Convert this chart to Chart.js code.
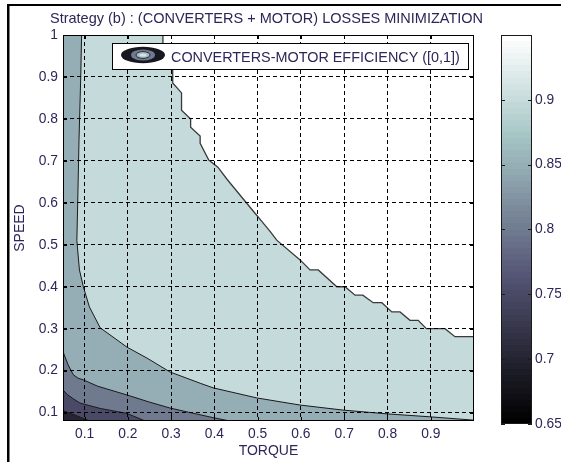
<!DOCTYPE html>
<html>
<head>
<meta charset="utf-8">
<title>Converters + motor efficiency</title>
<script src="https://cdn.jsdelivr.net/npm/chart.js@4.4.1/dist/chart.umd.min.js"></script>
<style>
  html, body { margin: 0; padding: 0; background: #fff; }
  #wrap { position: relative; width: 561px; height: 462px; }
  #wrap canvas { position: absolute; left: 0; top: 0; }
</style>
</head>
<body>
<div id="wrap">
  <canvas id="effChart" width="561" height="462"></canvas>
  <canvas id="barChart" width="561" height="462"></canvas>
</div>
<script>
// axes
const torqueRange = [0.05, 1.0];
const speedRange = [0.08, 1.0];
const torqueTicks = [0.1, 0.2, 0.3, 0.4, 0.5, 0.6, 0.7, 0.8, 0.9];
const speedTicks = [0.1, 0.2, 0.3, 0.4, 0.5, 0.6, 0.7, 0.8, 0.9, 1];

// colour scale
const colorLimits = [0.65, 0.95];
const colorbarTicks = [0.65, 0.7, 0.75, 0.8, 0.85, 0.9];

// iso-efficiency lines (torque, speed)
const torque95 = [0.281, 0.281, 0.3036, 0.3036, 0.324, 0.324, 0.345, 0.345, 0.367, 0.367, 0.387, 0.408,
  0.43, 0.45, 0.47, 0.49, 0.51, 0.53, 0.544, 0.598, 0.621, 0.640, 0.683, 0.702, 0.725, 0.743, 0.767,
  0.787, 0.81, 0.829, 0.852, 0.871, 0.89, 0.933, 0.956, 1.0];
const speed95 = [1.0, 0.96, 0.935, 0.8855, 0.862, 0.821, 0.80, 0.78, 0.759, 0.742, 0.702, 0.685,
  0.655, 0.63, 0.605, 0.58, 0.555, 0.53, 0.511, 0.464, 0.44, 0.44, 0.40, 0.40, 0.38, 0.38, 0.362,
  0.362, 0.34, 0.34, 0.32, 0.32, 0.30, 0.30, 0.281, 0.281];

const torque90 = [0.093, 0.091, 0.087, 0.084, 0.082, 0.088, 0.097, 0.111, 0.136, 0.198, 0.244, 0.297,
  0.367, 0.397, 0.498, 0.598, 0.697, 0.799, 0.898, 1.0];
const speed90 = [1.0, 0.9, 0.75, 0.6, 0.51, 0.44, 0.4, 0.352, 0.302, 0.256, 0.23, 0.197,
  0.17, 0.159, 0.135, 0.118, 0.106, 0.097, 0.09, 0.082];

const torque85 = [0.05, 0.062, 0.074, 0.085, 0.097, 0.13, 0.198, 0.25, 0.297, 0.34, 0.397, 0.436];
const speed85 = [0.245, 0.2135, 0.19, 0.182, 0.178, 0.163, 0.142, 0.125, 0.111, 0.101, 0.088, 0.08];

const torque80 = [0.05, 0.06, 0.075, 0.089, 0.11, 0.136, 0.198, 0.24];
const speed80 = [0.154, 0.143, 0.132, 0.123, 0.117, 0.110, 0.098, 0.08];

const torque75 = [0.05, 0.07, 0.09, 0.112];
const speed75 = [0.1045, 0.097, 0.089, 0.08];

const textColor = '#2e2658';
Chart.defaults.font.family = "'Liberation Sans', Arial, sans-serif";
Chart.defaults.font.size = 13.8;
Chart.defaults.color = textColor;

// MATLAB "bone" colormap
function bone(t) {
  const hr = Math.min(1, t / 0.375);
  const hg = Math.min(1, Math.max(0, (t - 0.375) / 0.375));
  const hb = Math.min(1, Math.max(0, (t - 0.75) / 0.25));
  const c = v => Math.round(v * 255);
  return `rgb(${c((7 * t + hb) / 8)},${c((7 * t + hg) / 8)},${c((7 * t + hr) / 8)})`;
}
function levelColor(v) {
  return bone((v - colorLimits[0]) / (colorLimits[1] - colorLimits[0]));
}

function pts(xs, ys) {
  return xs.map((x, i) => ({ x: x, y: ys[i] }));
}

const [tMin, tMax] = torqueRange;
const [sMin, sMax] = speedRange;

// filled bands, each one the area below/left of its lower contour
const bands = [
  { level: 0.90, data: [{ x: tMin, y: sMax }, ...pts(torque95, speed95), { x: tMax, y: sMin }, { x: tMin, y: sMin }] },
  { level: 0.85, data: [{ x: tMin, y: sMax }, ...pts(torque90, speed90), { x: tMax, y: sMin }, { x: tMin, y: sMin }] },
  { level: 0.80, data: [...pts(torque85, speed85), { x: tMin, y: sMin }] },
  { level: 0.75, data: [...pts(torque80, speed80), { x: tMin, y: sMin }] },
  { level: 0.70, data: [...pts(torque75, speed75), { x: tMin, y: sMin }] }
];
const contours = [
  { data: pts(torque95, speed95), color: '#3a3a3a', width: 1.3 },
  { data: pts(torque90, speed90), color: '#1a1a1a', width: 1 },
  { data: pts(torque85, speed85), color: '#1a1a1a', width: 1 },
  { data: pts(torque80, speed80), color: '#1a1a1a', width: 1 },
  { data: pts(torque75, speed75), color: '#1a1a1a', width: 1 }
];

const datasets = [];
bands.forEach((b, i) => {
  datasets.push({
    data: b.data, showLine: true, fill: 'shape', backgroundColor: levelColor(b.level),
    borderColor: 'rgba(0,0,0,0)', borderWidth: 0, pointRadius: 0, tension: 0, order: 20 - i
  });
});
contours.forEach(c => {
  datasets.push({
    data: c.data, showLine: true, fill: false, borderColor: c.color, borderWidth: c.width,
    pointRadius: 0, tension: 0, order: 1
  });
});

// frame, inward ticks, legend, title
const decorations = {
  id: 'decorations',
  afterDraw(chart) {
    const { ctx, chartArea: a, scales } = chart;
    ctx.save();
    ctx.strokeStyle = '#000';
    ctx.lineWidth = 1;
    ctx.strokeRect(a.left + 0.5, a.top + 0.5, a.right - a.left - 1, a.bottom - a.top - 1);
    ctx.beginPath();
    torqueTicks.forEach(v => {
      const x = Math.round(scales.x.getPixelForValue(v)) + 0.5;
      ctx.moveTo(x, a.bottom); ctx.lineTo(x, a.bottom - 4);
      ctx.moveTo(x, a.top); ctx.lineTo(x, a.top + 4);
    });
    speedTicks.forEach(v => {
      const y = Math.round(scales.y.getPixelForValue(v)) + 0.5;
      ctx.moveTo(a.left, y); ctx.lineTo(a.left + 4, y);
      ctx.moveTo(a.right, y); ctx.lineTo(a.right - 4, y);
    });
    ctx.stroke();

    // legend
    ctx.fillStyle = '#fff';
    ctx.fillRect(112, 43, 356, 26);
    ctx.strokeRect(112.5, 43.5, 356, 26);
    const ell = (rx, ry, fill, stroke) => {
      ctx.beginPath();
      ctx.ellipse(143, 55, rx, ry, 0, 0, Math.PI * 2);
      ctx.fillStyle = fill; ctx.fill();
      if (stroke) { ctx.strokeStyle = stroke; ctx.stroke(); }
    };
    ell(22, 8.2, '#17171f');
    ell(12, 5.6, '#6d7a91');
    ell(7, 3.4, '#a9bcc2', '#2a2a33');
    ell(3.5, 1.6, '#d4e2e2');
    ctx.fillStyle = textColor;
    ctx.font = "14.4px 'Liberation Sans', Arial, sans-serif";
    ctx.textBaseline = 'alphabetic';
    ctx.fillText('CONVERTERS-MOTOR EFFICIENCY ([0,1])', 171, 62);

    // title
    ctx.font = "14.5px 'Liberation Sans', Arial, sans-serif";
    ctx.fillText('Strategy (b) : (CONVERTERS + MOTOR) LOSSES MINIMIZATION', 50, 23);

    // figure border
    ctx.fillStyle = '#000';
    ctx.fillRect(7, 4, chart.width - 7, 2);
    ctx.fillRect(7, 4, 2.5, chart.height - 4);
    ctx.restore();
  }
};

new Chart(document.getElementById('effChart'), {
  type: 'scatter',
  data: { datasets: datasets },
  options: {
    responsive: false,
    animation: false,
    events: [],
    layout: { padding: { left: 0, top: 35, right: 87, bottom: 0 } },
    plugins: { legend: { display: false }, tooltip: { enabled: false } },
    scales: {
      x: {
        type: 'linear',
        min: tMin, max: tMax,
        afterBuildTicks: s => { s.ticks = torqueTicks.map(v => ({ value: v })); },
        afterFit: s => { s.height = 41; },
        ticks: { padding: 5, callback: v => String(v) },
        grid: { color: '#000', lineWidth: 1, drawTicks: false, z: 1 },
        border: { display: false, dash: [4, 3] },
        title: { display: true, text: 'TORQUE', font: { size: 14 }, padding: { top: 0, bottom: 2 } }
      },
      y: {
        type: 'linear',
        min: sMin, max: sMax,
        afterBuildTicks: s => { s.ticks = speedTicks.map(v => ({ value: v })); },
        afterFit: s => { s.width = 63; },
        ticks: { padding: 5, callback: v => String(v) },
        grid: { color: '#000', lineWidth: 1, drawTicks: false, z: 1 },
        border: { display: false, dash: [4, 3] },
        title: { display: true, text: 'SPEED', font: { size: 14 }, padding: { top: 12, bottom: 0 } }
      }
    }
  },
  plugins: [decorations]
});

// colour bar
const colorbarFrame = {
  id: 'colorbarFrame',
  afterDraw(chart) {
    const { ctx, chartArea: a, scales } = chart;
    ctx.save();
    ctx.strokeStyle = '#1a1a1a';
    ctx.lineWidth = 1;
    ctx.strokeRect(a.left + 0.5, a.top + 0.5, a.right - a.left - 1, a.bottom - a.top - 1);
    ctx.beginPath();
    colorbarTicks.forEach(v => {
      const y = Math.round(scales.y.getPixelForValue(v)) + 0.5;
      ctx.moveTo(a.left, y); ctx.lineTo(a.left + 4, y);
      ctx.moveTo(a.right, y); ctx.lineTo(a.right - 4, y);
    });
    ctx.stroke();
    ctx.restore();
  }
};

new Chart(document.getElementById('barChart'), {
  type: 'bar',
  data: {
    labels: [''],
    datasets: [{
      data: [colorLimits],
      borderWidth: 0,
      barPercentage: 1,
      categoryPercentage: 1,
      backgroundColor: c => {
        const a = c.chart.chartArea;
        if (!a) return '#888';
        const g = c.chart.ctx.createLinearGradient(0, a.bottom, 0, a.top);
        for (let i = 0; i < 64; i++) {
          const col = bone(i / 63);
          g.addColorStop(i / 64, col);
          g.addColorStop((i + 1) / 64, col);
        }
        return g;
      }
    }]
  },
  options: {
    responsive: false,
    animation: false,
    events: [],
    layout: { padding: { left: 501, top: 35, right: 0, bottom: 38 } },
    plugins: { legend: { display: false }, tooltip: { enabled: false } },
    scales: {
      x: { display: false },
      y: {
        position: 'right',
        min: colorLimits[0], max: colorLimits[1],
        afterBuildTicks: s => { s.ticks = colorbarTicks.map(v => ({ value: v })); },
        afterFit: s => { s.width = 29; },
        ticks: { padding: 3, callback: v => String(v) },
        grid: { display: false, drawTicks: false },
        border: { display: false }
      }
    }
  },
  plugins: [colorbarFrame]
});
</script>
</body>
</html>
